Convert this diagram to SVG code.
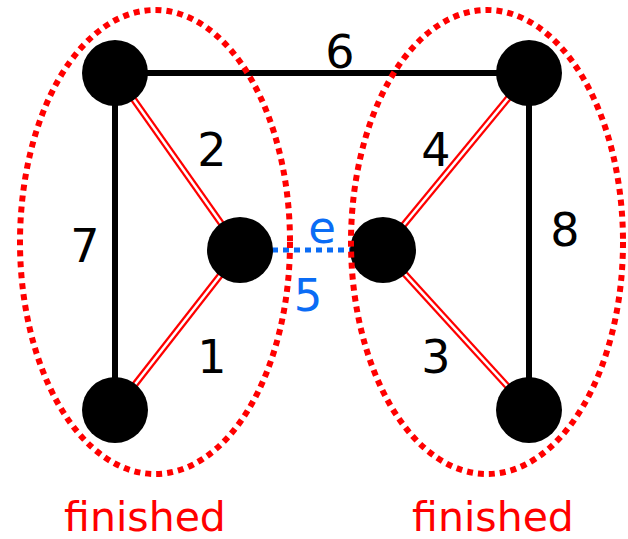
<svg xmlns="http://www.w3.org/2000/svg" width="628" height="539" viewBox="0 0 628 539">
<style>
.blk{stroke:#000;stroke-width:6;fill:none}
.dblo{stroke:#ff0000;stroke-width:7;fill:none}
.dbli{stroke:#fff;stroke-width:2.5;fill:none}
.blue{stroke:#0a6cf5;stroke-width:5;stroke-dasharray:6 5;fill:none}
.grp{stroke:#ff0000;stroke-width:6;stroke-dasharray:6 5;fill:none}
.node{fill:#000}
.lbl{font-family:"DejaVu Sans",sans-serif;font-size:46px;text-anchor:middle;fill:#000}
.blbl{font-family:"DejaVu Sans",sans-serif;font-size:45px;text-anchor:middle;fill:#0a6cf5}
.fin{font-family:"DejaVu Sans",sans-serif;font-size:41px;text-anchor:middle;fill:#ff0000}
</style>
<g id="connectors">
<line class="blk" x1="115" y1="73" x2="529" y2="73"/>
<line class="blk" x1="115" y1="73" x2="115" y2="410"/>
<line class="blk" x1="529" y1="73" x2="529" y2="410"/>
<line class="dblo" x1="115" y1="73" x2="240" y2="250"/>
<line class="dbli" x1="115" y1="73" x2="240" y2="250"/>
<line class="dblo" x1="240" y1="250" x2="115" y2="410"/>
<line class="dbli" x1="240" y1="250" x2="115" y2="410"/>
<line class="dblo" x1="529" y1="73" x2="383" y2="250"/>
<line class="dbli" x1="529" y1="73" x2="383" y2="250"/>
<line class="dblo" x1="383" y1="250" x2="529" y2="410"/>
<line class="dbli" x1="383" y1="250" x2="529" y2="410"/>
<line class="blue" x1="272" y1="250" x2="352" y2="250"/>
</g>
<g id="n1"><circle class="node" cx="115" cy="73" r="33"/></g>
<g id="n2"><circle class="node" cx="529" cy="73" r="33"/></g>
<g id="n3"><circle class="node" cx="240" cy="250" r="33"/></g>
<g id="n4"><circle class="node" cx="383" cy="250" r="33"/></g>
<g id="n5"><circle class="node" cx="115" cy="410" r="33"/></g>
<g id="n6"><circle class="node" cx="529" cy="410" r="33"/></g>
<g id="groups">
<ellipse class="grp" cx="155" cy="242" rx="135" ry="232"/>
<ellipse class="grp" cx="487" cy="242" rx="136" ry="232"/>
</g>
<g id="labels">
<text class="lbl" x="340" y="68">6</text>
<text class="lbl" x="212" y="166">2</text>
<text class="lbl" x="85" y="262">7</text>
<text class="lbl" x="212" y="373">1</text>
<text class="lbl" x="436" y="166">4</text>
<text class="lbl" x="565" y="246">8</text>
<text class="lbl" x="436" y="373">3</text>
<text class="blbl" x="322" y="243">e</text>
<text class="blbl" x="308" y="311">5</text>
<text class="fin" x="145" y="531">finished</text>
<text class="fin" x="493" y="531">finished</text>
</g>
</svg>
